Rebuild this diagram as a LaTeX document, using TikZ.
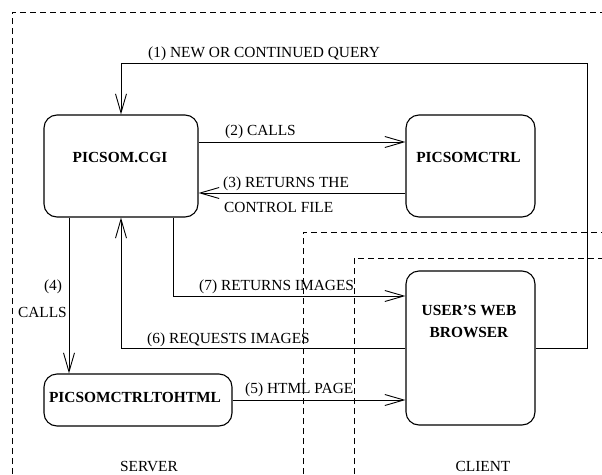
\documentclass[tikz,border=0pt]{standalone}
\usepackage{fontspec}
\setmainfont{Liberation Serif}
\usetikzlibrary{arrows.meta}
\begin{document}
\begin{tikzpicture}[x=1pt,y=-1pt,
  font=\fontsize{15.4}{22}\selectfont,
  boxnode/.style={draw,line width=1.1pt,rounded corners=13pt,inner sep=0pt},
  btext/.style={font=\fontsize{15.4}{22}\selectfont\bfseries,anchor=base,inner sep=0pt},
  lbl/.style={anchor=base west,inner sep=0pt},
  arr/.style={line width=0.9pt,-{Straight Barb[length=19pt,width=11pt]}},
  conn/.style={line width=0.9pt},
  dashline/.style={line width=0.8pt,dash pattern=on 6pt off 4pt}]
\useasboundingbox (0,0) rectangle (602,474);
% dashed regions
\draw[dashline] (12,474) -- (12,12) -- (602,12);
\draw[dashline] (303,474) -- (303,232) -- (602,232);
\draw[dashline] (354,474) -- (354,258) -- (602,258);
% boxes
\node[boxnode,minimum width=154pt,minimum height=102pt] (cgi) at (121,166) {};
\node[boxnode,minimum width=129pt,minimum height=102pt] (ctrl) at (470.5,166) {};
\node[boxnode,minimum width=129pt,minimum height=154pt] (browser) at (470.5,348) {};
\node[boxnode,minimum width=188pt,minimum height=52pt] (html) at (138,400) {};
% box texts
\node[btext] (cgit) at (120,162) {PICSOM.CGI};
\node[btext] (ctrlt) at (468.5,162) {PICSOMCTRL};
\node[btext] (brt1) at (469,315) {USER'S WEB};
\node[btext] (brt2) at (469,337) {BROWSER};
\node[btext] (htmlt) at (135,402) {PICSOMCTRLTOHTML};
% helper coordinates
\coordinate (c2a) at ([yshift=24pt]cgi.east);
\coordinate (c3a) at ([yshift=-27pt]ctrl.west);
\coordinate (c4a) at ([xshift=-52pt]cgi.south);
\coordinate (c7a) at ([xshift=52pt]cgi.south);
\coordinate (c7b) at ([yshift=52pt]browser.west);
\coordinate (c1r) at (587,63);
% connectors
\draw[arr] (browser.east) -| (c1r) -| (cgi.north);
\draw[arr] (c2a) -- (c2a -| ctrl.west);
\draw[arr] (c3a) -- (c3a -| cgi.east);
\draw[arr] (c4a) -- (c4a |- html.north);
\draw[arr] (html.east) -- (html.east -| browser.west);
\draw[arr] (browser.west) -| (cgi.south);
\draw[arr] (c7a) |- (c7b);
% labels
\node[lbl] (l1) at (148,57) {(1) NEW OR CONTINUED QUERY};
\node[lbl] (l2) at (225,135) {(2) CALLS};
\node[lbl] (l3a) at (223,187) {(3) RETURNS THE};
\node[lbl] (l3b) at (224,212) {CONTROL FILE};
\node[anchor=base,inner sep=0pt] (l4a) at (53,290) {(4)};
\node[anchor=base east,inner sep=0pt] (l4b) at (67,317) {CALLS};
\node[lbl] (l7) at (199,290) {(7) RETURNS IMAGES};
\node[lbl] (l6) at (147,343) {(6) REQUESTS IMAGES};
\node[lbl] (l5) at (245,393) {(5) HTML PAGE};
\node[anchor=base,inner sep=0pt] (server) at (149,471) {SERVER};
\node[anchor=base,inner sep=0pt] (client) at (483,471) {CLIENT};
\end{tikzpicture}
\end{document}
